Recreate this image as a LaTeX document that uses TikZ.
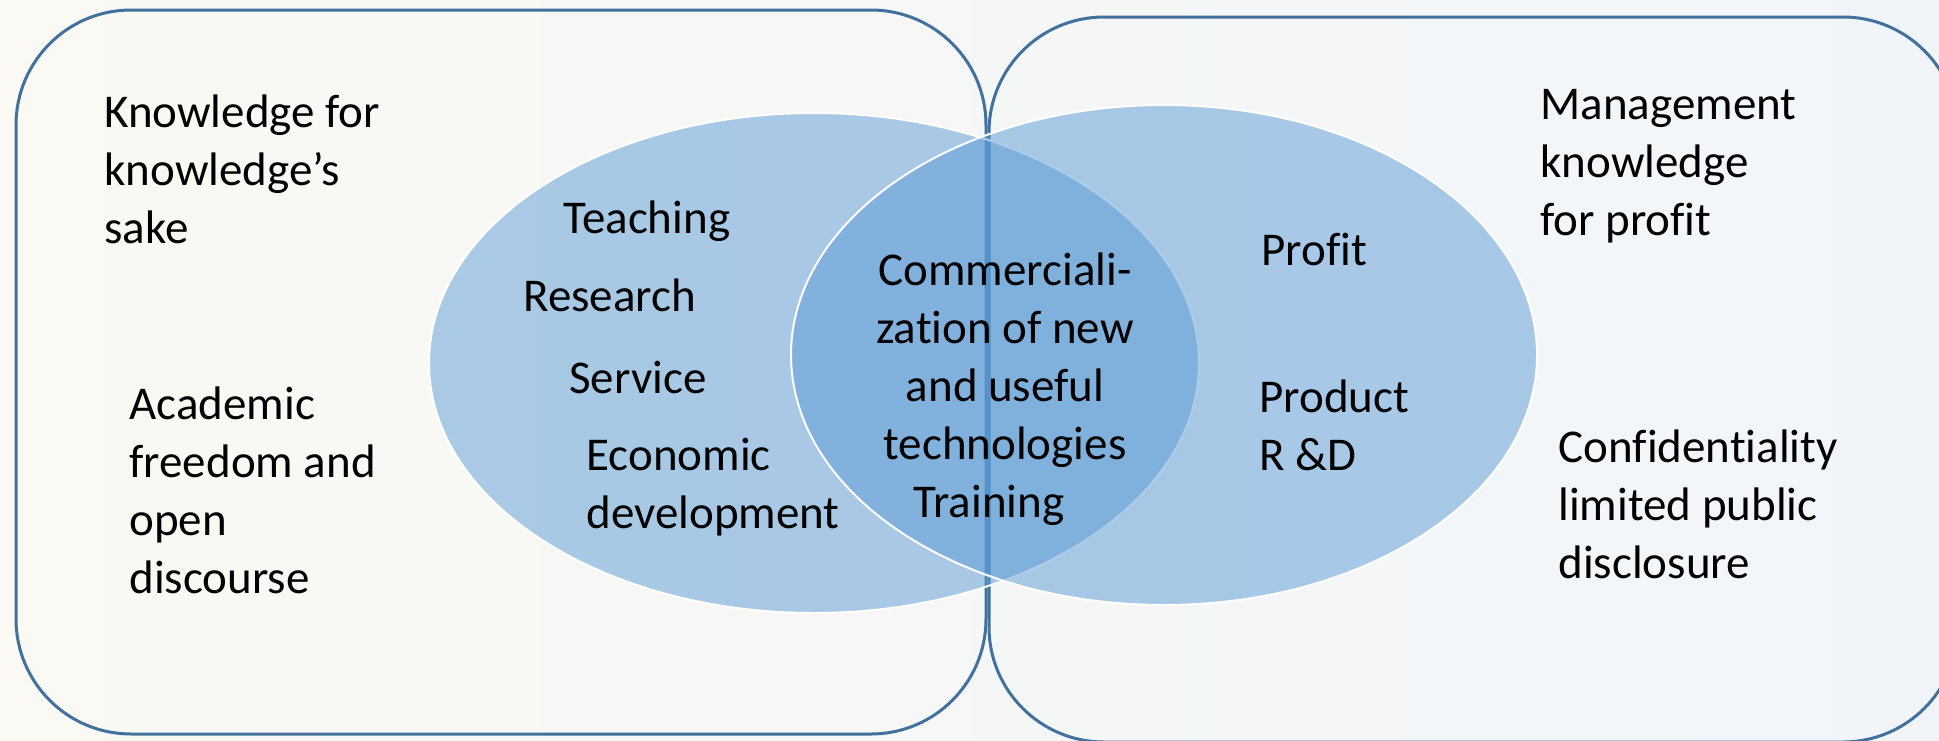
\documentclass[tikz,border=0pt]{standalone}
\usepackage{fontspec}
\setmainfont{Carlito}[Ligatures=NoCommon]
\usetikzlibrary{shapes.geometric}
\definecolor{boxline}{RGB}{65,113,156}
\definecolor{venn}{RGB}{91,155,213}
\definecolor{bgleft}{RGB}{250,249,243}
\definecolor{bgright}{RGB}{241,245,250}
\tikzset{
  field/.style={draw=boxline, line width=1.5pt, rectangle, rounded corners=57.5pt},
  blob/.style={ellipse, draw=white, line width=1pt, fill=venn, fill opacity=0.5, text opacity=1},
  label/.style={inner sep=0pt, align=left, font=\fontsize{23.5}{29}\selectfont},
}
\begin{document}
\begin{tikzpicture}[x=0.5pt,y=-0.5pt]
  \useasboundingbox (0,0) rectangle (1939,740);
  \shade[left color=bgleft, right color=bgright] (0,0) rectangle (1939,740);
  \node[font=\bfseries\fontsize{50}{60}\selectfont, anchor=base] (title) at (1610,-20) {y};
  % the two fields
  \draw
    (501,372) node[field, minimum width=485pt, minimum height=362pt] (acad){}
    (1473.5,379.5) node[field, minimum width=484.5pt, minimum height=362.5pt] (ind){};
  % the two circles
  \draw
    (814,363) node[blob, minimum width=385pt, minimum height=250pt] (univ){}
    (1164,355) node[blob, minimum width=373pt, minimum height=250pt] (firm){};
  % texts
  \draw
    (104,94) node[label, anchor=north west] (sake){Knowledge for\\knowledge’s\\sake}
    (129,386) node[label, anchor=north west] (free){Academic\\freedom and\\open\\discourse}
    (563,200) node[label, anchor=north west] (teach){Teaching}
    (523,278) node[label, anchor=north west] (res){Research}
    (569,361) node[label, anchor=north west] (serv){Service}
    (586,438) node[label, anchor=north west] (econ){Economic\\development}
    (1005,252) node[label, align=center, anchor=north] (comm){Commerciali-\\zation of new\\and useful\\technologies}
    (913,485) node[label, anchor=north west] (train){Training}
    (1261,233) node[label, anchor=north west] (profit){Profit}
    (1259,379) node[label, anchor=north west] (prod){Product\\R \&D}
    (1540,89) node[label, anchor=north west] (mgmt){Management\\knowledge\\for profit}
    (1558,429) node[label, anchor=north west] (conf){Confidentiality\\limited public\\disclosure};
\end{tikzpicture}
\end{document}
